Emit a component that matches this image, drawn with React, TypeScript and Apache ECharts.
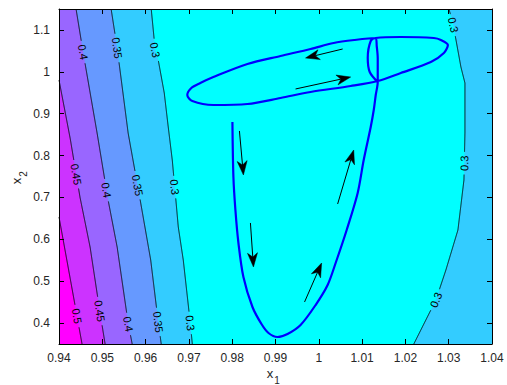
import React, { useEffect, useRef } from "react";
import * as echarts from "echarts";

const X_MIN = 0.94;
const X_MAX = 1.04;
const Y_MIN = 0.35;
const Y_MAX = 1.15;
const Y_TICKS = [0.4, 0.5, 0.6, 0.7, 0.8, 0.9, 1.0, 1.1];

// colours of the filled bands: <0.3, 0.3-0.35, 0.35-0.4, 0.4-0.45, 0.45-0.5, >0.5
const LEVEL_COLORS = ["#00FFFF", "#33CCFF", "#6699FF", "#9966FF", "#CC33FF", "#FF00FF"];

// contour lines [x1, x2]
const C30_LEFT = [
  [0.9613, 1.15], [0.96222, 1.0521], [0.96292, 1.0282], [0.96431, 0.9494], [0.96523, 0.8682],
  [0.96616, 0.7894], [0.96685, 0.7106], [0.96755, 0.6294], [0.9687, 0.5506], [0.97032, 0.4001],
  [0.97079, 0.35],
];
const C30_RIGHT = [
  [1.03005, 1.15], [1.03097, 1.1166], [1.03282, 1.0115], [1.03375, 0.9733], [1.03375, 0.8539],
  [1.03352, 0.7416], [1.03213, 0.6222], [1.02935, 0.5267], [1.02704, 0.4551], [1.02194, 0.35],
];
const C35 = [
  [0.95204, 1.15], [0.95343, 1.0569], [0.95597, 0.8537], [0.95875, 0.6939], [0.96118, 0.5506],
  [0.96292, 0.4025], [0.96361, 0.35],
];
const C40 = [
  [0.94394, 1.15], [0.94556, 1.0473], [0.9488, 0.8537], [0.95134, 0.6939], [0.95343, 0.5816],
  [0.95597, 0.4001], [0.9569, 0.35],
];
const C45 = [
  [0.94, 0.9804], [0.9426, 0.84], [0.94486, 0.7], [0.94718, 0.5816], [0.94949, 0.424], [0.95065, 0.35],
];
const C50 = [[0.94, 0.6533], [0.9427, 0.5], [0.94532, 0.35]];

const CONTOUR_TEXT = ["0.3", "0.3", "0.35", "0.4", "0.45", "0.5"];
const CONTOUR_LINES = [C30_LEFT, C30_RIGHT, C35, C40, C45, C50];
const CONTOUR_SIDE = ["left", "right", "left", "left", "left", "left"];
const CONTOUR_FILL = [1, 1, 2, 3, 4, 5];

// contour label positions: [contour index, x1, x2]
const CONTOUR_LABELS = [
  [0, 0.96222, 1.0521], [0, 0.96685, 0.7249], [0, 0.97032, 0.4001],
  [1, 1.03097, 1.1118], [1, 1.03375, 0.7822], [1, 1.02704, 0.4551],
  [2, 0.95343, 1.0569], [2, 0.95875, 0.7297], [2, 0.96292, 0.4025],
  [3, 0.94556, 1.0473], [3, 0.95134, 0.7178], [3, 0.95597, 0.3978],
  [4, 0.94417, 0.756], [4, 0.94949, 0.4288],
  [5, 0.94417, 0.4169],
];

// trajectory [x1, x2]
const TRAJECTORY = [
  [0.98005, 0.8801], [0.98028, 0.7488], [0.98074, 0.67], [0.98144, 0.5912], [0.98259, 0.51],
  [0.98468, 0.4384], [0.98676, 0.3978], [0.98838, 0.3763], [0.99046, 0.3667], [0.99278, 0.3739],
  [0.99579, 0.3954], [0.99926, 0.4431], [1.00204, 0.4909], [1.00389, 0.5434], [1.00644, 0.6222],
  [1.00898, 0.7106], [1.01037, 0.7894], [1.01199, 0.8682], [1.01269, 0.9088], [1.01315, 0.9446],
  [1.01361, 0.9757],
  [1.01361, 1.0043], [1.01361, 1.033], [1.01338, 1.0616], [1.01315, 1.0807],
  [1.00829, 1.076], [1.00343, 1.0688], [0.9981, 1.0545], [0.99116, 1.0378], [0.98352, 1.0187],
  [0.97565, 0.9876], [0.97264, 0.9733], [0.97056, 0.9613], [0.96963, 0.9446],
  [0.97079, 0.9303], [0.97565, 0.9207], [0.98352, 0.9231], [0.99116, 0.9375], [0.9981, 0.9518],
  [1.00736, 0.9661], [1.01361, 0.9781], [1.01894, 0.9972], [1.02588, 1.0234], [1.02889, 1.0449],
  [1.02981, 1.064],
  [1.0282, 1.076], [1.02657, 1.0807], [1.01894, 1.0831], [1.01315, 1.0807],
  [1.01199, 1.0736], [1.0113, 1.033], [1.01176, 0.9996], [1.01361, 0.9757],
];

// direction arrows [x1 start, x2 start, x1 end, x2 end]
const ARROWS = [
  [1.00551, 1.0545, 0.99694, 1.033],
  [0.99463, 0.959, 1.00736, 0.9876],
  [0.98167, 0.8587, 0.98259, 0.7536],
  [0.98421, 0.639, 0.98491, 0.5339],
  [0.99671, 0.4503, 1.00065, 0.5434],
  [1.00435, 0.6843, 1.00806, 0.8133],
];

const FONT = "'Liberation Sans', Arial, Helvetica, sans-serif";
const fmt = (v: number) => String(+(+v).toFixed(2));

function densify(pts: number[][], step = 0.5) {
  const out: number[][] = [];
  for (let i = 0; i < pts.length - 1; i++) {
    const [x0, y0] = pts[i];
    const [x1, y1] = pts[i + 1];
    const d = Math.hypot(x1 - x0, y1 - y0);
    const n = Math.max(1, Math.ceil(d / step));
    for (let k = 0; k < n; k++) out.push([x0 + ((x1 - x0) * k) / n, y0 + ((y1 - y0) * k) / n]);
  }
  out.push(pts[pts.length - 1]);
  return out;
}

export default function App() {
  const ref = useRef<HTMLDivElement>(null);
  useEffect(() => {
    if (!ref.current) return;
    const chart = echarts.init(ref.current, null, { renderer: "svg" });

    const fillItems: any[] = [{ base: true }];
    CONTOUR_LINES.forEach((pts, i) => fillItems.push({ i }));

    const axisCommon = {
      type: "value",
      splitLine: { show: false },
      axisLine: { show: true, onZero: false, lineStyle: { color: "#000", width: 1 } },
      axisTick: { show: true, inside: true, length: 5, lineStyle: { color: "#000", width: 1 } },
      z: 10,
    };

    const option: any = {
      animation: false,
      backgroundColor: "#fff",
      grid: { left: 59, right: 15, top: 9, bottom: 41, containLabel: false },
      xAxis: [
        {
          ...axisCommon,
          position: "bottom",
          min: X_MIN,
          max: X_MAX,
          interval: 0.01,
          axisLabel: { margin: 8, fontSize: 12, color: "#262626", fontFamily: FONT, formatter: fmt },
        },
        {
          ...axisCommon,
          position: "top",
          min: X_MIN,
          max: X_MAX,
          interval: 0.01,
          axisLabel: { show: false },
        },
      ],
      yAxis: [
        {
          ...axisCommon,
          position: "left",
          min: Y_MIN,
          max: Y_MAX,
          axisTick: { ...axisCommon.axisTick, customValues: Y_TICKS },
          axisLabel: {
            customValues: Y_TICKS,
            margin: 9,
            fontSize: 12,
            color: "#262626",
            fontFamily: FONT,
            formatter: fmt,
          },
        },
        {
          ...axisCommon,
          position: "right",
          min: Y_MIN,
          max: Y_MAX,
          axisTick: { ...axisCommon.axisTick, customValues: Y_TICKS },
          axisLabel: { show: false, customValues: Y_TICKS },
        },
      ],
      graphic: [
        { type: "text", x: 270, y: 373, style: { text: "x", font: `13px ${FONT}`, fill: "#262626", align: "center", verticalAlign: "middle" } },
        { type: "text", x: 277, y: 380, style: { text: "1", font: `10px ${FONT}`, fill: "#262626", align: "center", verticalAlign: "middle" } },
        {
          type: "group",
          x: 16,
          y: 181,
          rotation: Math.PI / 2,
          children: [
            { type: "text", x: 0, y: 0, style: { text: "x", font: `13px ${FONT}`, fill: "#262626", align: "center", verticalAlign: "middle" } },
            { type: "text", x: 7, y: 7, style: { text: "2", font: `10px ${FONT}`, fill: "#262626", align: "center", verticalAlign: "middle" } },
          ],
        },
      ],
      series: [
        {
          type: "custom",
          z: 1,
          silent: true,
          data: fillItems.map(() => [0.99, 0.75]),
          renderItem: (params: any, api: any) => {
            const item = fillItems[params.dataIndex];
            if (item.base) {
              const pts = [[X_MIN, Y_MIN], [X_MAX, Y_MIN], [X_MAX, Y_MAX], [X_MIN, Y_MAX]].map((p) => api.coord(p));
              return { type: "polygon", shape: { points: pts }, style: { fill: LEVEL_COLORS[0] } };
            }
            const i = item.i;
            const line = CONTOUR_LINES[i];
            const edgeX = CONTOUR_SIDE[i] === "left" ? X_MIN : X_MAX;
            const poly = [...line, [edgeX, Y_MIN], [edgeX, Y_MAX]].map((p) => api.coord(p));
            return { type: "polygon", shape: { points: poly }, style: { fill: LEVEL_COLORS[CONTOUR_FILL[i]] } };
          },
        },
        {
          type: "custom",
          z: 2,
          silent: true,
          data: CONTOUR_LINES.map(() => [0.99, 0.75]),
          renderItem: (params: any, api: any) => {
            const i = params.dataIndex;
            const pix = CONTOUR_LINES[i].map((p) => api.coord(p));
            const dense = densify(pix);
            const text = CONTOUR_TEXT[i];
            const r = text.length * 3 + 2;
            const centers: number[][] = [];
            const children: any[] = [];
            CONTOUR_LABELS.filter((l) => l[0] === i).forEach((l) => {
              const lp = api.coord([l[1], l[2]]);
              let best = 0;
              let bd = Infinity;
              dense.forEach((p, k) => {
                const d = Math.hypot(p[0] - lp[0], p[1] - lp[1]);
                if (d < bd) {
                  bd = d;
                  best = k;
                }
              });
              const c = dense[best];
              const a = dense[Math.max(0, best - 10)];
              const b = dense[Math.min(dense.length - 1, best + 10)];
              let ang = Math.atan2(-(b[1] - a[1]), b[0] - a[0]);
              if (ang > Math.PI / 2) ang -= Math.PI;
              if (ang <= -Math.PI / 2) ang += Math.PI;
              centers.push(c);
              children.push({
                type: "text",
                x: c[0],
                y: c[1],
                rotation: ang,
                style: { text, font: `11px ${FONT}`, fill: "#000", align: "center", verticalAlign: "middle" },
              });
            });
            let seg: number[][] = [];
            const segs: number[][][] = [];
            dense.forEach((p) => {
              const near = centers.some((c) => Math.hypot(p[0] - c[0], p[1] - c[1]) < r);
              if (near) {
                if (seg.length > 1) segs.push(seg);
                seg = [];
              } else seg.push(p);
            });
            if (seg.length > 1) segs.push(seg);
            segs.forEach((s) =>
              children.unshift({
                type: "polyline",
                shape: { points: s },
                style: { stroke: "#000", lineWidth: 0.9, fill: null },
              })
            );
            return { type: "group", children };
          },
        },
        {
          type: "line",
          z: 3,
          silent: true,
          data: TRAJECTORY,
          showSymbol: false,
          symbol: "none",
          smooth: 0.3,
          clip: true,
          lineStyle: { color: "#0000FF", width: 2.2 },
        },
        {
          type: "custom",
          z: 4,
          silent: true,
          data: ARROWS,
          encode: { x: [0, 2], y: [1, 3] },
          renderItem: (params: any, api: any) => {
            const p0 = api.coord([api.value(0), api.value(1)]);
            const p1 = api.coord([api.value(2), api.value(3)]);
            const dx = p1[0] - p0[0];
            const dy = p1[1] - p0[1];
            const len = Math.hypot(dx, dy);
            const ux = dx / len;
            const uy = dy / len;
            const nx = -uy;
            const ny = ux;
            const L = 14;
            const W = 5;
            const notch = 4;
            const bx = p1[0] - ux * L;
            const by = p1[1] - uy * L;
            const mx = p1[0] - ux * (L - notch);
            const my = p1[1] - uy * (L - notch);
            return {
              type: "group",
              children: [
                { type: "line", shape: { x1: p0[0], y1: p0[1], x2: mx, y2: my }, style: { stroke: "#000", lineWidth: 1 } },
                {
                  type: "polygon",
                  shape: { points: [p1, [bx + nx * W, by + ny * W], [mx, my], [bx - nx * W, by - ny * W]] },
                  style: { fill: "#000", stroke: "#000", lineWidth: 0.5 },
                },
              ],
            };
          },
        },
      ],
    };
    chart.setOption(option);
    return () => chart.dispose();
  }, []);
  return <div ref={ref} style={{ position: "fixed", left: 0, top: 0, width: 507, height: 385 }} />;
}
